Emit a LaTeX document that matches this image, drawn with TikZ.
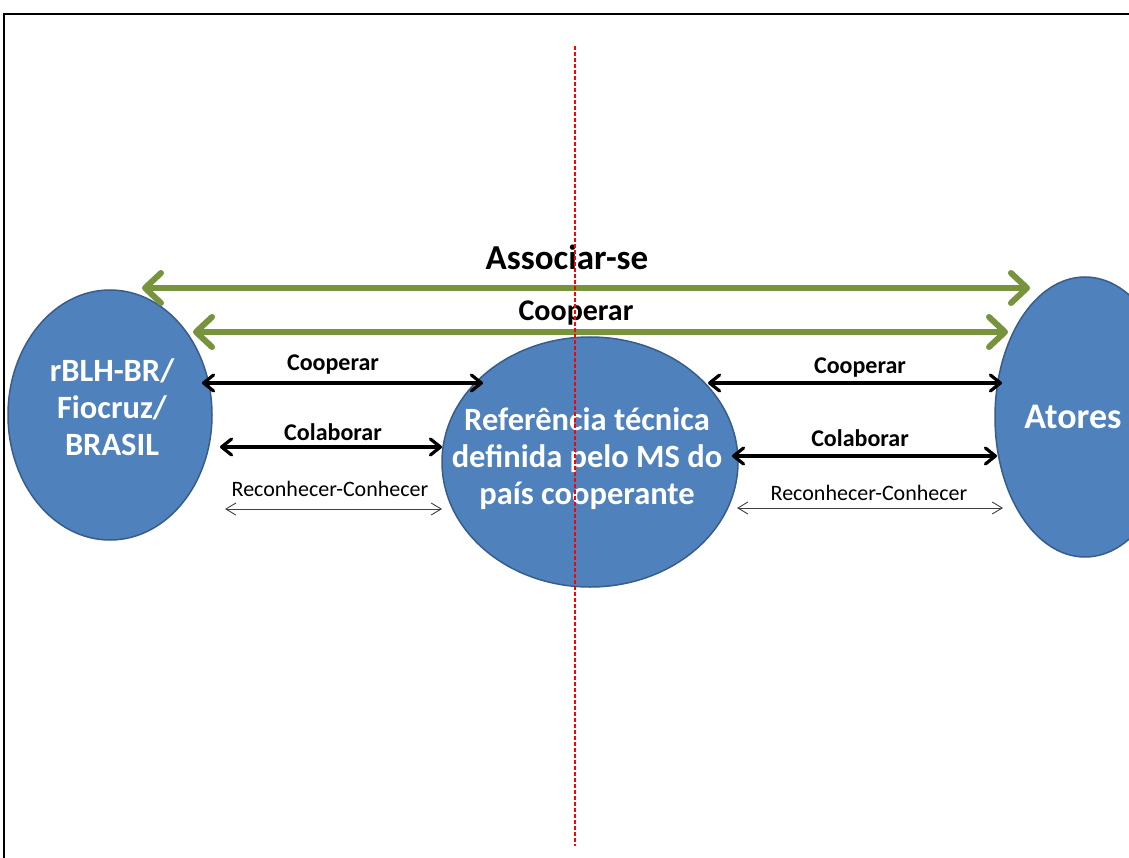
\documentclass[tikz,border=0pt]{standalone}
\usepackage{fontspec}
\setmainfont{Carlito}
\usepackage{tikz}
\usetikzlibrary{arrows.meta,shapes.geometric}

\definecolor{blobfill}{HTML}{4F81BD}
\definecolor{blobline}{HTML}{385D8A}
\definecolor{leafgreen}{HTML}{77933C}
\definecolor{guidered}{HTML}{FF0000}

\begin{document}
\begin{tikzpicture}[
  x=1pt, y=-1pt,
  blob/.style={ellipse, draw=blobline, fill=blobfill, line width=1.5pt, inner sep=0pt},
  blobtxt/.style={text=white, font=\fontsize{32.5}{37}\selectfont\bfseries, align=center},
  garr/.style={{Straight Barb[length=16pt, width=30pt, round]}-{Straight Barb[length=16pt, width=30pt, round]}, leafgreen, line width=6pt},
  barr/.style={{Straight Barb[length=10pt, width=16pt, round]}-{Straight Barb[length=10pt, width=16pt, round]}, line width=3.2pt},
  tarr/.style={{Straight Barb[length=10pt, width=12pt]}-{Straight Barb[length=10pt, width=12pt]}, line width=0.9pt, black!75},
  lbl/.style={font=\fontsize{24}{28}\selectfont\bfseries},
  smalllbl/.style={font=\fontsize{22}{26}\selectfont}
]
\useasboundingbox (0,0) rectangle (1129,858);
\fill[white] (0,0) rectangle (1129,858);
% frame
\draw[line width=2.5pt] (4,858) -- (4,14) -- (1129,14);

% the three actors
\node[blob, minimum width=204pt, minimum height=250pt] (rblh) at (110,415) {};
\node[blobtxt] (rblhTxt) at (112,407) {rBLH-BR/\\Fiocruz/\\BRASIL};
\node[blob, minimum width=296pt, minimum height=250pt] (refmc) at (590,462) {};
\node[blobtxt] (refmcTxt) at (587,459) {Referência técnica\\definida pelo MS do\\país cooperante};
\node[blob, minimum width=180pt, minimum height=280pt] (atores) at (1085,417) {};
\node[blobtxt, font=\fontsize{36}{40}\selectfont\bfseries] (atoresTxt) at (1073,417) {Atores};

% green links
\draw[garr] ([shift={(32,-127)}]rblh.center) -- ([shift={(-55,-129)}]atores.center);
\draw[garr] ([shift={(83,-83)}]rblh.center) -- ([shift={(-77,-85)}]atores.center);
\node[font=\fontsize{35}{40}\selectfont\bfseries] (assoc) at (567,257) {Associar-se};
\node[font=\fontsize{30}{34}\selectfont\bfseries] (coopG) at (576,313) {Cooperar};

% left side
\draw[barr] ([shift={(92,-32)}]rblh.center) -- ([shift={(-107,-79)}]refmc.center);
\draw[barr] ([shift={(110,32)}]rblh.center) -- ([shift={(-148,-15)}]refmc.center);
\draw[tarr] ([shift={(115,94)}]rblh.center) -- ([shift={(-148,47)}]refmc.center);
\node[lbl] (coopL) at (333,365) {Cooperar};
\node[lbl] (colabL) at (333,432) {Colaborar};
\node[smalllbl] (reconL) at (330,489) {Reconhecer-Conhecer};

% right side
\draw[barr] ([shift={(118,-79)}]refmc.center) -- ([shift={(-83,-34)}]atores.center);
\draw[barr] ([shift={(142,-6)}]refmc.center) -- ([shift={(-88,39)}]atores.center);
\draw[tarr] ([shift={(147,46)}]refmc.center) -- ([shift={(-82,91)}]atores.center);
\node[lbl] (coopR) at (860,368) {Cooperar};
\node[lbl] (colabR) at (860,438) {Colaborar};
\node[smalllbl] (reconR) at (869,493) {Reconhecer-Conhecer};

% guide line
\coordinate (guideTop) at (575,46);
\coordinate (guideBot) at (575,846);
\draw[guidered, line width=1.3pt, dash pattern=on 4pt off 2pt] (guideTop) -- (guideBot);
\end{tikzpicture}
\end{document}
